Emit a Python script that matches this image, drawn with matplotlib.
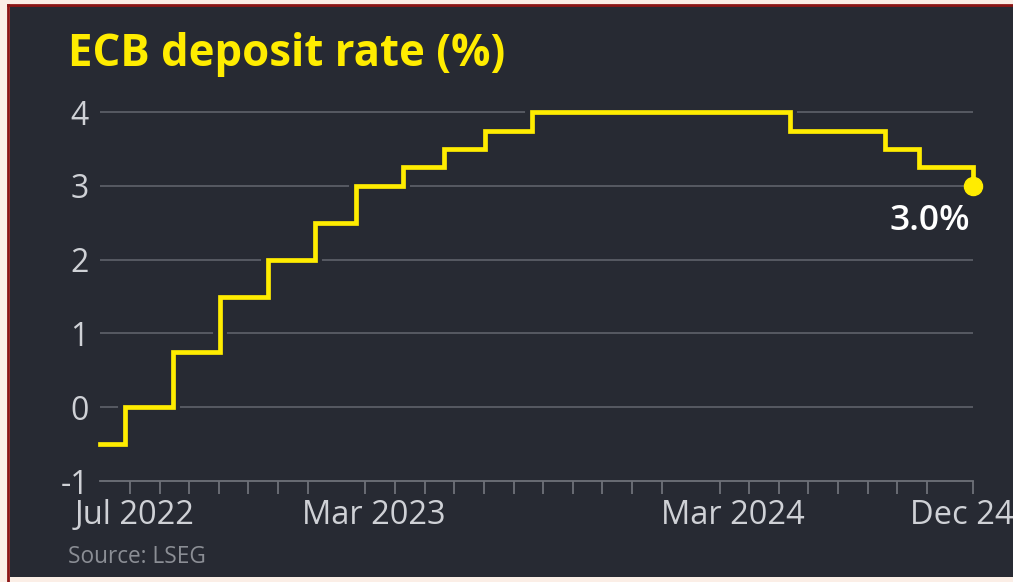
import matplotlib
matplotlib.use('Agg')
import matplotlib.pyplot as plt
import matplotlib.patheffects as pe
from matplotlib.patches import Rectangle
from matplotlib.lines import Line2D
from matplotlib.transforms import ScaledTranslation
import pandas as pd

# ECB deposit rate decisions (date the new rate applies)
change_dates = ['2022-07-01', '2022-07-27', '2022-09-14', '2022-11-02', '2022-12-21',
                '2023-02-08', '2023-03-22', '2023-05-10', '2023-06-21', '2023-08-02',
                '2023-09-20', '2024-06-12', '2024-09-18', '2024-10-23', '2024-12-18']
rates = [-0.5, 0.0, 0.75, 1.5, 2.0, 2.5, 3.0, 3.25, 3.5, 3.75, 4.0, 3.75, 3.5, 3.25, 3.0]

y_ticks = [-1, 0, 1, 2, 3, 4]
x_label_dates = ['2022-07-01', '2023-03-01', '2024-03-01', '2024-12-01']
x_labels = ['Jul 2022', 'Mar 2023', 'Mar 2024', 'Dec 24']

BG = '#272a33'
YELLOW = '#ffec00'
GRID = '#5f626b'
TXT = '#cfd1d6'

plt.rcParams['font.family'] = ['Open Sans', 'DejaVu Sans']

dates = pd.to_datetime(change_dates)

fig = plt.figure(figsize=(10.13, 5.82), dpi=100, facecolor='#fbeee6')
W, H = 1013, 582
fig.patches.append(Rectangle((10 / W, 5 / H), 1003 / W, 572 / H, transform=fig.transFigure,
                             facecolor=BG, edgecolor='none', zorder=-10))
fig.lines.append(Line2D([8 / W, 1], [1 - 5 / H, 1 - 5 / H], transform=fig.transFigure,
                        color='#8b1515', lw=2, zorder=-5))
fig.lines.append(Line2D([8 / W, 8 / W], [0, 1 - 5 / H], transform=fig.transFigure,
                        color='#8b1515', lw=2, zorder=-5))

ax = fig.add_axes([100 / W, (H - 481) / H, 873 / W, (481 - 90) / H])
ax.set_facecolor('none')

ax.plot(dates, rates, drawstyle='steps-post', color=YELLOW, lw=3.4, zorder=3,
        solid_joinstyle='miter', clip_on=False,
        path_effects=[pe.Stroke(linewidth=10, foreground=BG), pe.Normal()])
ax.plot(dates[-1], rates[-1], 'o', color=YELLOW, ms=13, zorder=4, clip_on=False)
ax.annotate('3.0%', xy=(dates[-1], rates[-1]), xytext=(-3, -18), textcoords='offset pixels',
            ha='right', va='top', color='white', fontsize=25.5, fontweight='semibold')

ax.set_xlim(dates[0], dates[-1])
ax.set_ylim(-1, 4.3)

for y in y_ticks[1:]:
    ax.axhline(y, color=GRID, lw=1.2, zorder=1)

for s in ['top', 'right', 'left']:
    ax.spines[s].set_visible(False)
ax.spines['bottom'].set_color('#6e7179')
ax.spines['bottom'].set_linewidth(1.3)

ax.set_yticks(y_ticks)
ax.set_yticklabels([str(v) for v in y_ticks])
ax.tick_params(axis='y', length=0, pad=8, labelsize=23, labelcolor=TXT)

month_ticks = list(pd.date_range('2022-07-01', '2024-12-01', freq='MS')) + [dates[-1]]
ax.set_xticks(month_ticks, minor=True)
ax.set_xticks(pd.to_datetime(x_label_dates))
ax.set_xticklabels(x_labels)
ax.tick_params(axis='x', which='minor', length=9, width=1.3, color='#6e7179', direction='out')
ax.tick_params(axis='x', which='major', length=0, pad=13, labelsize=23.5, labelcolor=TXT)

# labels sit a bit right of their month ticks in the original
shifts = [35, 38, 43, 5]
for lab, dx in zip(ax.get_xticklabels(), shifts):
    lab.set_transform(lab.get_transform() + ScaledTranslation(dx / 100, 0, fig.dpi_scale_trans))

fig.text(68 / W, 1 - 66 / H, 'ECB deposit rate (%)', color=YELLOW, fontsize=31.5,
         fontweight='bold', va='baseline', ha='left')
fig.text(68 / W, 1 - 563 / H, 'Source: LSEG', color='#8b8e95', fontsize=16.3,
         va='baseline', ha='left')

fig.savefig('out.png', dpi=100, facecolor=fig.get_facecolor())
